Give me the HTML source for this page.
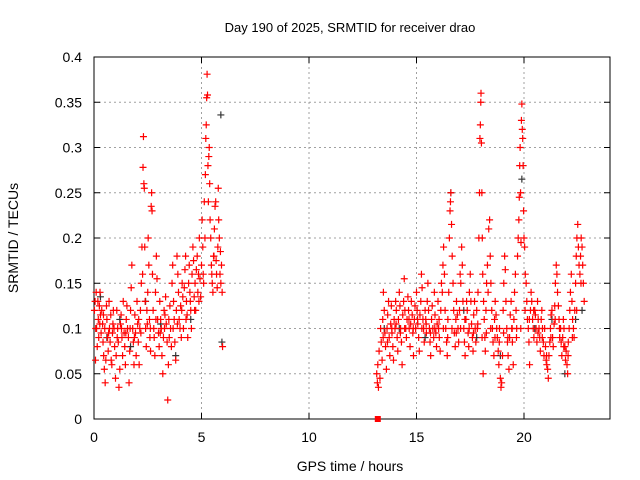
<!DOCTYPE html>
<html><head><meta charset="utf-8"><style>
html,body{margin:0;padding:0;background:#fff}
svg{display:block;font-family:"Liberation Sans",sans-serif}
</style></head><body>
<svg id="chart" width="640" height="480">
<rect width="640" height="480" fill="#fff"/>
<g id="grid"></g>
<g id="axes"></g>
<g id="marks"></g>
<text x="350" y="32" text-anchor="middle" font-size="13">Day 190 of 2025, SRMTID for receiver drao</text>
<text x="350" y="471" text-anchor="middle" font-size="14">GPS time / hours</text>
<text x="18" y="238" text-anchor="middle" font-size="14" transform="rotate(-90 18 238)">SRMTID / TECUs</text>
</svg>
<script>
const xTicks=[0,5,10,15,20];
const yTicks=[0,0.05,0.1,0.15,0.2,0.25,0.3,0.35,0.4];
const yTickLabels=["0","0.05","0.1","0.15","0.2","0.25","0.3","0.35","0.4"];
const blackPoints=[[0.3,.135],[0.6,.09],[1.2,.11],[1.7,.08],[2.4,.13],[3.1,.105],[3.8,.07],[4.5,.11],[5.9,.336],[5.95,.085],[13.5,.1],[14.2,.1],[15.4,.09],[16.6,.25],[17.2,.12],[17.8,.09],[18.9,.07],[19.9,.265],[20.5,.1],[21.3,.11],[21.9,.05],[22.4,.11],[22.7,.12]];
const redPoints=[[0.02,.12],[0.05,.13],[0.07,.065],[0.1,.14],[0.12,.1],[0.15,.08],[0.18,.13],[0.2,.11],[0.22,.09],[0.25,.125],[0.28,.14],[0.3,.115],[0.33,.095],[0.36,.12],[0.4,.105],[0.42,.085],[0.45,.07],[0.48,.055],[0.5,.1],[0.52,.04],[0.55,.065],[0.58,.125],[0.6,.11],[0.63,.09],[0.66,.075],[0.7,.13],[0.72,.1],[0.75,.085],[0.78,.115],[0.8,.065],[0.83,.06],[0.86,.095],[0.9,.12],[0.93,.1],[0.96,.08],
[1.0,.045],[1.03,.07],[1.06,.12],[1.1,.1],[1.13,.085],[1.16,.035],[1.2,.055],[1.23,.105],[1.26,.115],[1.3,.09],[1.33,.07],[1.36,.13],[1.4,.095],[1.43,.08],[1.46,.06],[1.5,.11],[1.53,.125],[1.56,.1],[1.6,.09],[1.63,.04],[1.66,.075],[1.7,.12],[1.73,.145],[1.76,.17],[1.8,.1],[1.83,.085],[1.86,.06],[1.9,.115],[1.93,.095],[1.96,.07],
[2.0,.13],[2.03,.105],[2.06,.085],[2.1,.06],[2.13,.1],[2.16,.12],[2.2,.15],[2.23,.19],[2.26,.16],[2.28,.278],[2.3,.312],[2.32,.26],[2.34,.255],[2.36,.19],[2.38,.13],[2.4,.1],[2.43,.08],[2.46,.12],[2.5,.14],[2.52,.2],[2.55,.17],[2.58,.11],[2.6,.09],[2.63,.075],[2.66,.235],[2.68,.25],[2.7,.23],[2.72,.16],[2.75,.12],[2.78,.1],[2.8,.09],[2.83,.07],[2.86,.14],[2.9,.18],[2.93,.155],[2.96,.11],
[3.0,.095],[3.03,.08],[3.06,.13],[3.1,.11],[3.13,.1],[3.16,.07],[3.2,.05],[3.23,.09],[3.26,.12],[3.3,.115],[3.33,.135],[3.36,.105],[3.4,.085],[3.43,.021],[3.46,.06],[3.5,.09],[3.53,.125],[3.56,.1],[3.6,.08],[3.63,.15],[3.66,.17],[3.7,.13],[3.73,.11],[3.76,.085],[3.8,.065],[3.83,.12],[3.86,.18],[3.9,.16],[3.93,.14],[3.96,.11],
[4.0,.1],[4.03,.125],[4.06,.09],[4.1,.15],[4.13,.135],[4.16,.1],[4.2,.145],[4.23,.165],[4.26,.18],[4.3,.13],[4.33,.115],[4.36,.09],[4.4,.15],[4.43,.17],[4.46,.14],[4.5,.12],[4.53,.1],[4.56,.16],[4.6,.19],[4.63,.175],[4.66,.135],[4.7,.15],[4.73,.12],[4.76,.165],[4.8,.18],[4.83,.14],[4.86,.16],[4.9,.2],[4.93,.155],[4.96,.135],
[5.0,.17],[5.03,.22],[5.06,.19],[5.1,.15],[5.13,.24],[5.16,.2],[5.2,.31],[5.22,.325],[5.24,.355],[5.26,.381],[5.28,.358],[5.3,.28],[5.32,.24],[5.34,.29],[5.36,.3],[5.38,.26],[5.4,.22],[5.43,.2],[5.46,.17],[5.5,.15],[5.53,.14],[5.56,.18],[5.6,.21],[5.63,.235],[5.66,.24],[5.7,.16],[5.73,.145],[5.76,.19],[5.8,.22],[5.83,.2],[5.86,.16],[5.9,.15],[5.93,.17],[5.96,.14],[5.98,.08],[5.78,.255],[5.58,.18],[5.18,.27],
[0.08,.1],[0.27,.105],[0.44,.115],[0.68,.095],[0.88,.105],[1.08,.09],[1.28,.1],[1.48,.095],[1.68,.1],[1.88,.09],[2.08,.11],[2.18,.095],[2.48,.105],[2.62,.1],[2.88,.11],[3.08,.095],[3.28,.1],[3.48,.11],[3.68,.1],[3.88,.105],[4.08,.12],[4.28,.11],[4.48,.13],[4.68,.12],[4.88,.13],[5.08,.16],[5.48,.16],[5.68,.175],[5.88,.185],
[13.15,.05],[13.18,.04],[13.2,.06],[13.23,.035],[13.26,.075],[13.3,.045],[13.33,.1],[13.36,.085],[13.4,.065],[13.43,.11],[13.46,.14],[13.5,.12],[13.53,.095],[13.56,.08],[13.6,.055],[13.63,.1],[13.66,.115],[13.7,.13],[13.73,.09],[13.76,.07],[13.8,.105],[13.83,.125],[13.86,.095],[13.9,.08],[13.93,.065],[13.96,.11],
[14.0,.1],[14.03,.13],[14.06,.12],[14.1,.09],[14.13,.075],[14.16,.11],[14.2,.14],[14.23,.125],[14.26,.1],[14.3,.085],[14.33,.06],[14.36,.115],[14.4,.13],[14.43,.155],[14.46,.12],[14.5,.1],[14.53,.09],[14.56,.11],[14.6,.135],[14.63,.12],[14.66,.1],[14.7,.08],[14.73,.105],[14.76,.13],[14.8,.115],[14.83,.095],[14.86,.07],[14.9,.11],[14.93,.125],[14.96,.1],
[15.0,.14],[15.03,.12],[15.06,.105],[15.1,.09],[15.13,.075],[15.16,.115],[15.2,.13],[15.23,.16],[15.26,.145],[15.3,.11],[15.33,.1],[15.36,.085],[15.4,.12],[15.43,.11],[15.46,.095],[15.5,.13],[15.53,.15],[15.56,.12],[15.6,.1],[15.63,.085],[15.66,.07],[15.7,.11],[15.73,.125],[15.76,.1],[15.8,.09],[15.83,.14],[15.86,.115],[15.9,.095],[15.93,.08],[15.96,.105],
[16.0,.13],[16.03,.1],[16.06,.09],[16.1,.075],[16.13,.12],[16.16,.15],[16.2,.14],[16.23,.17],[16.26,.19],[16.3,.16],[16.33,.12],[16.36,.1],[16.4,.085],[16.43,.07],[16.46,.11],[16.5,.14],[16.53,.2],[16.56,.23],[16.58,.24],[16.6,.25],[16.63,.215],[16.66,.18],[16.7,.15],[16.73,.12],[16.76,.095],[16.8,.08],[16.83,.11],[16.86,.13],[16.9,.115],[16.93,.1],[16.96,.085],
[17.0,.12],[17.03,.16],[17.06,.15],[17.1,.19],[17.13,.17],[17.16,.13],[17.2,.1],[17.23,.085],[17.26,.07],[17.3,.11],[17.33,.13],[17.36,.12],[17.4,.095],[17.43,.08],[17.46,.14],[17.5,.16],[17.53,.13],[17.56,.105],[17.6,.09],[17.63,.075],[17.66,.115],[17.7,.13],[17.73,.1],[17.76,.085],[17.8,.12],[17.83,.1],[17.86,.14],[17.9,.2],[17.93,.25],[17.95,.31],[17.97,.325],[17.99,.35],[18.0,.36],[18.02,.305],
[18.04,.25],[18.06,.2],[18.08,.16],[18.1,.05],[18.12,.13],[18.15,.11],[18.18,.09],[18.2,.075],[18.23,.12],[18.26,.15],[18.3,.17],[18.33,.14],[18.36,.21],[18.4,.22],[18.43,.18],[18.46,.15],[18.5,.12],[18.53,.1],[18.56,.085],[18.6,.07],[18.63,.11],[18.66,.13],[18.7,.115],[18.73,.1],[18.76,.09],[18.8,.075],[18.83,.06],[18.86,.1],[18.9,.045],[18.93,.035],[18.96,.04],
[19.0,.07],[19.03,.12],[19.06,.15],[19.1,.18],[19.13,.165],[19.16,.13],[19.2,.1],[19.23,.085],[19.26,.07],[19.3,.055],[19.33,.09],[19.36,.115],[19.4,.13],[19.43,.1],[19.46,.085],[19.5,.06],[19.53,.11],[19.56,.14],[19.6,.16],[19.63,.12],[19.66,.1],[19.7,.18],[19.73,.2],[19.76,.22],[19.78,.245],[19.8,.28],[19.82,.3],[19.84,.25],[19.86,.195],[19.88,.33],[19.9,.348],[19.92,.32],[19.94,.31],[19.96,.28],[19.98,.23],
[20.0,.2],[20.03,.19],[20.06,.16],[20.1,.15],[20.13,.13],[20.16,.11],[20.2,.1],[20.23,.085],[20.26,.06],[20.3,.12],[20.33,.14],[20.36,.13],[20.4,.11],[20.43,.1],[20.46,.09],[20.5,.12],[20.53,.115],[20.56,.1],[20.6,.085],[20.63,.13],[20.66,.11],[20.7,.1],[20.73,.09],[20.76,.075],[20.8,.11],[20.83,.12],[20.86,.1],[20.9,.085],[20.93,.07],[20.96,.1],
[21.0,.08],[21.03,.065],[21.06,.06],[21.1,.055],[21.13,.045],[21.16,.07],[21.2,.085],[21.23,.1],[21.26,.115],[21.3,.12],[21.33,.09],[21.36,.08],[21.4,.105],[21.43,.125],[21.46,.15],[21.5,.17],[21.53,.16],[21.56,.14],[21.6,.125],[21.63,.11],[21.66,.09],[21.7,.1],[21.73,.085],[21.76,.07],[21.8,.09],[21.83,.11],[21.86,.1],[21.9,.08],[21.93,.065],[21.96,.075],
[22.0,.06],[22.03,.05],[22.06,.085],[22.1,.1],[22.13,.12],[22.16,.14],[22.2,.16],[22.23,.13],[22.26,.11],[22.3,.1],[22.33,.09],[22.36,.12],[22.4,.15],[22.43,.18],[22.46,.2],[22.5,.215],[22.53,.19],[22.56,.17],[22.6,.16],[22.63,.18],[22.66,.2],[22.7,.19],[22.73,.17],[22.76,.15],[22.8,.13],
[13.45,.09],[13.65,.085],[13.85,.1],[14.05,.105],[14.25,.095],[14.45,.1],[14.65,.11],[14.85,.1],[15.05,.11],[15.25,.1],[15.45,.105],[15.65,.095],[15.85,.1],[16.05,.11],[16.25,.1],[16.45,.09],[16.65,.1],[16.85,.095],[17.05,.1],[17.25,.11],[17.45,.1],[17.65,.095],[17.85,.105],[18.05,.09],[18.25,.095],[18.45,.1],[18.65,.09],[18.85,.085],[19.05,.095],[19.25,.09],[19.45,.1],[19.65,.09],[19.85,.1],[20.05,.12],[20.25,.11],[20.45,.12],[20.65,.095],[20.85,.09],[21.05,.07],[21.25,.09],[21.45,.11],[21.65,.1],[21.85,.08],[22.05,.07],[22.25,.09],[22.45,.12],[22.65,.15]];
const missingPoints=[[13.2,0]];

const L=94,R=610,T=57,B=419,XMAX=24,YMAX=0.4;
const xs=v=>L+(R-L)*v/XMAX;
const ys=v=>B-(B-T)*v/YMAX;
const NS="http://www.w3.org/2000/svg";
function mk(tag,attrs,parent){const e=document.createElementNS(NS,tag);for(const k in attrs)e.setAttribute(k,attrs[k]);parent.appendChild(e);return e;}
const grid=document.getElementById('grid'),axes=document.getElementById('axes'),marks=document.getElementById('marks');

xTicks.forEach((t,i)=>{
  const x=xs(t);
  if(t>0){const g=mk('line',{x1:x,x2:x,y1:T,y2:B,stroke:'#a0a0a0','stroke-dasharray':'2,3'},grid);
  
  }
  mk('line',{x1:x,x2:x,y1:B,y2:B-6,stroke:'#000'},axes);
  mk('line',{x1:x,x2:x,y1:T,y2:T+6,stroke:'#000'},axes);
  const tx=mk('text',{x:x,y:B+23,'text-anchor':'middle','font-size':14},axes);
  tx.textContent=String(t);
  
  
});
yTicks.forEach((t,i)=>{
  const y=ys(t);
  if(t>0&&t<YMAX){const g=mk('line',{x1:L,x2:R,y1:y,y2:y,stroke:'#a0a0a0','stroke-dasharray':'2,3'},grid);
  
  }
  mk('line',{x1:L,x2:L+6,y1:y,y2:y,stroke:'#000'},axes);
  mk('line',{x1:R,x2:R-6,y1:y,y2:y,stroke:'#000'},axes);
  const tx=mk('text',{x:L-12,y:y+5,'text-anchor':'end','font-size':14},axes);
  tx.textContent=yTickLabels[i];
  
  
});
const frame=mk('rect',{x:L,y:T,width:R-L,height:B-T,fill:'none',stroke:'#000'},axes);



function plus(p,color,name){
  const x=xs(p[0]),y=ys(p[1]);
  const e=mk('path',{d:`M${x-3.5},${y}H${x+3.5}M${x},${y-3.5}V${y+3.5}`,stroke:color,'stroke-width':1.2,fill:'none'},marks);
  
  
}
blackPoints.forEach(p=>plus(p,'#333','black-point'));
redPoints.forEach(p=>plus(p,'#ff0000','red-point'));
missingPoints.forEach(p=>{
  const s=mk('rect',{x:xs(p[0])-3,y:ys(p[1])-3,width:6,height:6,fill:'#ff0000'},marks);
  
  
});
</script>
</body></html>
